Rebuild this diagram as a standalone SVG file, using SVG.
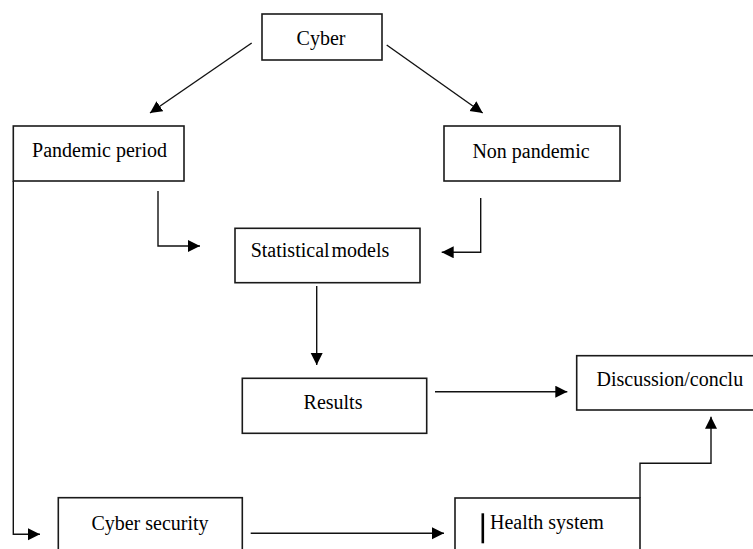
<svg xmlns="http://www.w3.org/2000/svg" width="753" height="549" viewBox="0 0 753 549">
<style>
.box{fill:#fff;stroke:#1a1a1a;stroke-width:1.6}
.lbl{font-family:"Liberation Serif","Times New Roman",serif;font-size:20px;fill:#000}
.c{fill:none;stroke:#111;stroke-width:1.4}
</style>
<defs>
<marker id="ah" markerUnits="userSpaceOnUse" markerWidth="13" markerHeight="13" refX="12" refY="6" orient="auto">
<path d="M0,0 L12,6 L0,12 z" fill="#000"/>
</marker>
</defs>
<rect width="753" height="549" fill="#fff"/>
<g id="connectors">
<line class="c" x1="251.7" y1="43" x2="150" y2="113" marker-end="url(#ah)"/>
<line class="c" x1="386.7" y1="45" x2="482.7" y2="113" marker-end="url(#ah)"/>
<polyline class="c" points="158,191 158,246 200,246" marker-end="url(#ah)"/>
<polyline class="c" points="480.7,198 480.7,252.3 441.7,252.3" marker-end="url(#ah)"/>
<line class="c" x1="316.7" y1="286" x2="316.7" y2="365" marker-end="url(#ah)"/>
<line class="c" x1="435" y1="391.7" x2="567.3" y2="391.7" marker-end="url(#ah)"/>
<polyline class="c" points="13.3,181 13.3,534.3 40,534.3" marker-end="url(#ah)"/>
<line class="c" x1="250.7" y1="533.3" x2="444" y2="533.3" marker-end="url(#ah)"/>
<polyline class="c" points="640,498 640,463.3 711,463.3 711,416.7" marker-end="url(#ah)"/>
</g>
<g id="cyber">
<rect class="box" x="262" y="14" width="120" height="46"/>
<text class="lbl" x="321" y="44.5" text-anchor="middle">Cyber</text>
</g>
<g id="pandemic">
<rect class="box" x="13.3" y="126" width="170.7" height="55"/>
<text class="lbl" x="99.5" y="156.7" text-anchor="middle">Pandemic period</text>
</g>
<g id="nonpandemic">
<rect class="box" x="444" y="126" width="176" height="55"/>
<text class="lbl" x="531" y="158" text-anchor="middle">Non pandemic</text>
</g>
<g id="statistical">
<rect class="box" x="235" y="228.3" width="185" height="54.4"/>
<text class="lbl" x="250.7" y="256.7" word-spacing="-3">Statistical models</text>
</g>
<g id="results">
<rect class="box" x="242.3" y="378.3" width="184.4" height="55"/>
<text class="lbl" x="333" y="409.3" text-anchor="middle">Results</text>
</g>
<g id="discussion">
<rect class="box" x="576.7" y="355.7" width="200" height="54.3"/>
<text class="lbl" x="596.5" y="386">Discussion/conclu</text>
</g>
<g id="cybersecurity">
<rect class="box" x="58.3" y="497.7" width="184" height="70"/>
<text class="lbl" x="150" y="530" text-anchor="middle">Cyber security</text>
</g>
<g id="health">
<rect class="box" x="455" y="498" width="185" height="70"/>
<rect x="481.5" y="513.3" width="2.6" height="30" fill="#000"/>
<text class="lbl" x="490" y="529.3">Health system</text>
</g>
</svg>
